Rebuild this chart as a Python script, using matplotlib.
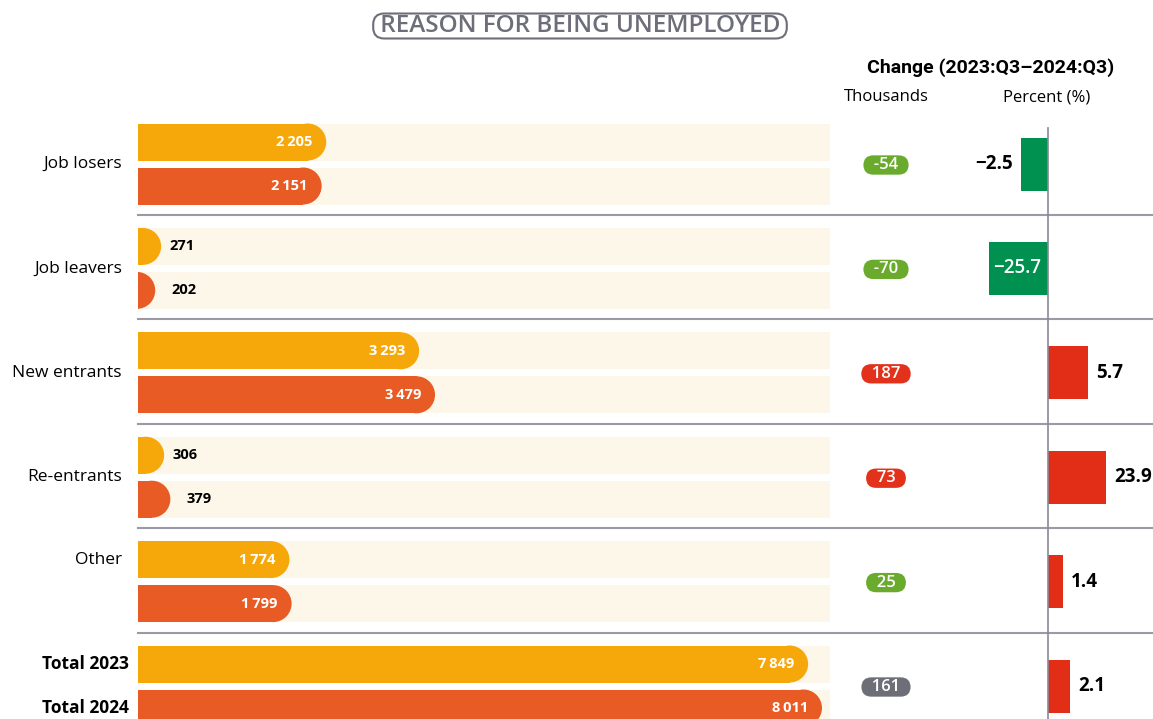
import numpy as np
import matplotlib
matplotlib.use("Agg")
import matplotlib.pyplot as plt
from matplotlib.patches import Rectangle, Ellipse
from matplotlib.scale import SymmetricalLogTransform

# data
categories = ["Job losers", "Job leavers", "New entrants", "Re-entrants", "Other", "Total"]
total_labels = ["Total 2023", "Total 2024"]
values_2023 = [2205, 271, 3293, 306, 1774, 7849]
values_2024 = [2151, 202, 3479, 379, 1799, 8011]
change_thousands = [-54, -70, 187, 73, 25, 161]
change_percent = [-2.5, -25.7, 5.7, 23.9, 1.4, 2.1]
badge_colors = ["#6aab2e", "#6aab2e", "#e2321c", "#e2321c", "#6aab2e", "#6e6e78"]

title = "REASON FOR BEING UNEMPLOYED"
header = "Change (2023:Q3\u20132024:Q3)"
sub_thousands = "Thousands"
sub_percent = "Percent (%)"

# colours
C_2023 = "#f6a80b"
C_2024 = "#e85b24"
C_TRACK = "#fdf7ea"
C_PCT_NEG = "#00904f"
C_PCT_POS = "#e22d17"
C_LINE = "#9a9aa6"
C_TITLE = "#6e6e7a"

plt.rcParams["font.family"] = ["Open Sans", "DejaVu Sans"]

W, H = 1153, 719
fig = plt.figure(figsize=(W / 100, H / 100), dpi=100)
fig.patch.set_facecolor("white")

TOP = 120
GROUP_H = 104.4
BAR_H = 37
XMAX = 8105
BAR_LEFT, BAR_RIGHT = 138, 830


def fx(px):
    return px / W


# full-figure axes in pixel units for lines, headers, badges
ax_frame = fig.add_axes([0, 0, 1, 1])
ax_frame.set_xlim(0, W)
ax_frame.set_ylim(H, 0)
ax_frame.axis("off")

ax_bars = fig.add_axes([fx(BAR_LEFT), 0, fx(BAR_RIGHT - BAR_LEFT), 1])
ax_bars.set_xlim(0, XMAX)
ax_bars.set_ylim(H, 0)
ax_bars.axis("off")

px2data = XMAX / (BAR_RIGHT - BAR_LEFT)
r_x = BAR_H / 2 * px2data


def rounded_bar(ax, y, v, color):
    body = max(v - r_x, 0)
    ax.add_patch(Rectangle((0, y - BAR_H / 2), body, BAR_H, color=color, lw=0, zorder=2))
    ax.add_patch(Ellipse((v - r_x, y), 2 * r_x, BAR_H, color=color, lw=0, zorder=2))


n = len(categories)
for g in range(n):
    gtop = TOP + g * GROUP_H
    y1, y2 = gtop + 22, gtop + 66
    center = gtop + 44
    for y, v, col, off in [(y1, values_2023[g], C_2023, 8), (y2, values_2024[g], C_2024, 16)]:
        ax_bars.barh(y, XMAX, height=BAR_H, color=C_TRACK, zorder=1)
        rounded_bar(ax_bars, y, v, col)
        lab = f"{v:,}".replace(",", "\u2009")
        if v > 1000:
            ax_bars.annotate(lab, xy=(v, y), xytext=(-14, 0), textcoords="offset pixels",
                             ha="right", va="center", color="white", fontsize=10.5,
                             fontweight="bold", zorder=3)
        else:
            ax_bars.annotate(lab, xy=(v, y), xytext=(off, 0), textcoords="offset pixels",
                             ha="left", va="center", color="black", fontsize=10.5,
                             fontweight="bold", zorder=3)

    # category labels
    if categories[g] == "Total":
        for y, t in zip([y1, y2], total_labels):
            ax_bars.annotate(t, xy=(0, y), xycoords=("axes fraction", "data"),
                             xytext=(-9, 0), textcoords="offset pixels",
                             ha="right", va="center", fontsize=12.5, fontweight="bold")
    else:
        ly = y1 if categories[g] == "Other" else center
        ax_bars.annotate(categories[g], xy=(0, ly), xycoords=("axes fraction", "data"),
                         xytext=(-16, 0), textcoords="offset pixels",
                         ha="right", va="center", fontsize=12.5)

    # separators
    if g < n - 1:
        ax_frame.plot([BAR_LEFT, W], [gtop + 95, gtop + 95], color=C_LINE, lw=1.5, zorder=1)

    # thousands badge
    ax_frame.text(886, center + 1, f"  {change_thousands[g]}  ", ha="center", va="center",
                  color="white", fontsize=12, fontweight="semibold", zorder=4,
                  bbox=dict(boxstyle="round,pad=0.1,rounding_size=0.6",
                            fc=badge_colors[g], ec="none"))

# percent axes (compressed scale)
PCT_ZERO = 1048
px_per_unit = 58 / 6.04
half = (W - PCT_ZERO) / px_per_unit
L = SymmetricalLogTransform(10, 3, 1).inverted().transform(np.array([half]))[0]
ax_pct = fig.add_axes([fx(PCT_ZERO - (W - PCT_ZERO)), 0, fx(2 * (W - PCT_ZERO)), 1])
ax_pct.set_xscale("symlog", linthresh=3, linscale=1)
ax_pct.set_xlim(-L, L)
ax_pct.set_ylim(H, 0)
ax_pct.axis("off")
ax_pct.patch.set_alpha(0)

centers = [TOP + g * GROUP_H + 44 for g in range(n)]
pct_colors = [C_PCT_NEG if v < 0 else C_PCT_POS for v in change_percent]
ax_pct.barh(centers, change_percent, height=53, color=pct_colors, zorder=2)
ax_pct.plot([0, 0], [128, H], color="#8a8a96", lw=1.2, zorder=3)

for y, v in zip(centers, change_percent):
    lab = f"{v:.1f}".replace("-", "\u2212")
    if v < -10:
        ax_pct.annotate(lab, xy=(v, y), xytext=(4, 0), textcoords="offset pixels",
                        ha="left", va="center", color="white", fontsize=13.5, fontweight="semibold")
    elif v < 0:
        ax_pct.annotate(lab, xy=(v, y), xytext=(-8, 0), textcoords="offset pixels",
                        ha="right", va="center", color="black", fontsize=13.5, fontweight="bold")
    else:
        ax_pct.annotate(lab, xy=(v, y), xytext=(8, 0), textcoords="offset pixels",
                        ha="left", va="center", color="black", fontsize=13.5, fontweight="bold")

# headers
ax_frame.text(580, 26, " " + title + " ", ha="center", va="center", color=C_TITLE, fontsize=17.5,
              fontweight="semibold",
              bbox=dict(boxstyle="round,pad=0.02,rounding_size=0.45", fc="white", ec=C_TITLE, lw=1.5))
ax_frame.text(991, 68, header, ha="center", va="center", fontsize=14, fontweight="bold",
              family=["Roboto", "DejaVu Sans"])
ax_frame.text(886, 97, sub_thousands, ha="center", va="center", fontsize=12)
ax_frame.text(1047, 97, sub_percent, ha="center", va="center", fontsize=12)

fig.savefig("out.png", dpi=100)
